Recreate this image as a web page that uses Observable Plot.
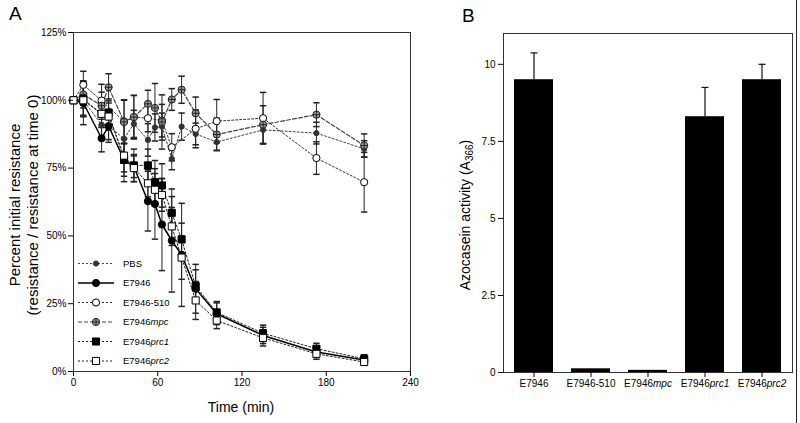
<!DOCTYPE html>
<html><head><meta charset="utf-8">
<script src="https://cdn.jsdelivr.net/npm/d3@7"></script>
<script src="https://cdn.jsdelivr.net/npm/@observablehq/plot@0.6"></script>
<style>
body{margin:0;background:#fff;font-family:"Liberation Sans",Arial,sans-serif;}
#wrap{position:relative;width:800px;height:423px;overflow:hidden;}
#a{position:absolute;left:0;top:0;}
#b{position:absolute;left:440px;top:0;}
#edge{position:absolute;left:796px;top:0;width:1px;height:423px;background:#222;}
</style></head><body><div id="wrap"><div id="a"></div><div id="b"></div><div id="edge"></div></div>
<script>
// ---------- Panel A data ----------
const times = [0, 7, 20, 25, 36, 43, 53, 58, 63, 70, 77, 87, 102, 135, 173, 207];
const seriesNames = ["PBS", "E7946", "E7946-510", "E7946mpc", "E7946prc1", "E7946prc2"];
const pbsValues  = [100, 100, 91, 90.5, 85.8, 91.3, 85.4, 90, 90.3, 78.4, 90.3, 87.6, 84.6, 89.1, 87.9, 82.1];
const pbsErrors  = [0, 6, 5, 5, 6, 5, 6, 5, 5, 4, 5, 4, 3, 5, 4, 3];
const e7946Values = [100, 99, 86, 90.5, 78, 75.5, 62.8, 61.8, 54.2, 48.3, 43, 30.5, 21.3, 13.3, 7.2, 4.2];
const e7946Errors = [0, 8, 5, 6, 6, 4, 11, 13, 17, 19, 19, 9, 4, 3, 2, 1.5];
const e510Values = [100, 105.7, 99.9, null, 92.2, 93.8, 93.4, null, 92.5, 82.7, null, 89.5, 92.3, 93.4, 78.7, 69.8];
const e510Errors = [0, 5, 6, 0, 8, 8, 5, 0, 6, 5, 0, 7, 8, 9.5, 6, 11];
const mpcValues  = [100, 102.2, 98, 104.8, 92, 93.8, 98.7, 97.2, 92, 100.3, 103.9, 95.2, 87.4, 91, 94.7, 83.3];
const mpcErrors  = [0, 5, 5, 5, 8, 8, 5, 9, 10, 4, 5, 6, 6, 7, 4.4, 4.3];
const prc1Values = [100, 100.5, 95, 95.5, 78, 76, 76, 69.8, 68.6, 58.5, 48.7, 31.5, 21.8, 14.1, 8.4, 4.7];
const prc1Errors = [0, 6, 5, 5, 8, 6, 6, 8, 8, 6, 6, 6, 4, 3, 2, 1.5];
const prc2Values = [100, 100, 95, 94, 79.6, 75, 69.4, 67, 65.1, 53.5, 42, 26.2, 18.8, 12.4, 6.5, 3.5];
const prc2Errors = [0, 6, 5, 5, 6, 5, 5, 6, 6, 7, 8, 7, 3, 3, 2, 1];
const xTicksA = [0, 60, 120, 180, 240];
const yTicksA = [0, 25, 50, 75, 100, 125];

// ---------- Panel B data ----------
const barCategories = ["E7946", "E7946-510", "E7946mpc", "E7946prc1", "E7946prc2"];
const barValues = [9.5, 0.12, 0.07, 8.3, 9.5];
const barErrors = [0.87, 0, 0, 0.95, 0.5];
const yTicksB = [0, 2.5, 5, 7.5, 10];

// ---------- styles ----------
const crossCircle = {draw(ctx, size) {const r = Math.sqrt(size / Math.PI); ctx.moveTo(r, 0); ctx.arc(0, 0, r, 0, 2 * Math.PI); ctx.moveTo(-r, 0); ctx.lineTo(r, 0); ctx.moveTo(0, -r); ctx.lineTo(0, r);}};
const capSym = {draw(ctx, size) {ctx.moveTo(-3.2, 0); ctx.lineTo(3.2, 0);}};
const capSymB = {draw(ctx, size) {ctx.moveTo(-3.5, 0); ctx.lineTo(3.5, 0);}};
const styleOf = {
  "PBS":       {symbol: "circle", r: 2.6, fill: "#333", stroke: "#333", dash: "2,2", lw: 1, lc: "#444"},
  "E7946":     {symbol: "circle", r: 3.6, fill: "#000", stroke: "#000", dash: null, lw: 1.5, lc: "#000"},
  "E7946-510": {symbol: "circle", r: 3.6, fill: "#fff", stroke: "#000", dash: "2,2", lw: 1, lc: "#333"},
  "E7946mpc":  {symbol: crossCircle, r: 3.6, fill: "#9a9a9a", stroke: "#222", dash: "4,2", lw: 1.2, lc: "#444"},
  "E7946prc1": {symbol: "square", r: 4, fill: "#000", stroke: "#000", dash: "2,2", lw: 1, lc: "#222"},
  "E7946prc2": {symbol: "square", r: 4, fill: "#fff", stroke: "#000", dash: "2,2", lw: 1, lc: "#222"}
};
const valuesOf = {"PBS": [pbsValues, pbsErrors], "E7946": [e7946Values, e7946Errors], "E7946-510": [e510Values, e510Errors],
  "E7946mpc": [mpcValues, mpcErrors], "E7946prc1": [prc1Values, prc1Errors], "E7946prc2": [prc2Values, prc2Errors]};

const rows = [];
for (const s of seriesNames) {
  const [vals, errs] = valuesOf[s];
  times.forEach((t, i) => { if (vals[i] != null) rows.push({series: s, t, v: vals[i], e: errs[i]}); });
}
const errRows = rows.filter(d => d.e > 0);
const font = "'Liberation Sans', Arial, sans-serif";

const marksA = [
  Plot.frame({stroke: "#333"}),
  Plot.ruleX(errRows, {x: "t", y1: d => d.v - d.e, y2: d => d.v + d.e, stroke: "#222", strokeWidth: 1}),
  Plot.dot(errRows, {x: "t", y: d => d.v + d.e, symbol: capSym, stroke: "#222", fill: "none", r: 3}),
  Plot.dot(errRows, {x: "t", y: d => d.v - d.e, symbol: capSym, stroke: "#222", fill: "none", r: 3})
];
for (const s of seriesNames) {
  const st = styleOf[s];
  marksA.push(Plot.line(rows.filter(d => d.series === s), {x: "t", y: "v", stroke: st.lc, strokeWidth: st.lw, strokeDasharray: st.dash}));
}
for (const s of seriesNames) {
  const st = styleOf[s];
  marksA.push(Plot.dot(rows.filter(d => d.series === s), {x: "t", y: "v", symbol: st.symbol, r: st.r, fill: st.fill, stroke: st.stroke, strokeWidth: 1}));
}
marksA.push(Plot.axisX({ticks: xTicksA, tickSize: 5, tickPadding: 2, label: null, fontSize: 10}));
marksA.push(Plot.axisY({ticks: yTicksA, tickSize: 5, tickPadding: 2, label: null, tickFormat: d => d + "%", fontSize: 10}));

const plotA = Plot.plot({
  width: 440, height: 423,
  marginLeft: 73, marginRight: 30, marginTop: 32, marginBottom: 52,
  x: {domain: [0, 240]},
  y: {domain: [0, 125]},
  style: {fontFamily: font, fontSize: "10px", color: "#000", background: "transparent"},
  marks: marksA
});
document.getElementById("a").appendChild(plotA);

const svgA = d3.select(plotA);
function addItalic(sel, txt) {
  const m = /^(E7946)(mpc|prc1|prc2)$/.exec(txt);
  sel.text(null);
  if (m) { sel.append("tspan").text(m[1]); sel.append("tspan").attr("font-style", "italic").text(m[2]); }
  else sel.text(txt);
}
// legend
const leg = svgA.append("g").attr("font-family", font).attr("font-size", 9.5).attr("text-anchor", "start");
seriesNames.forEach((s, i) => {
  const st = styleOf[s];
  const y = 263.5 + i * 19.5;
  leg.append("line").attr("x1", 78).attr("x2", 114).attr("y1", y).attr("y2", y)
    .attr("stroke", st.lc).attr("stroke-width", st.lw).attr("stroke-dasharray", st.dash);
  const sz = Math.PI * st.r * st.r;
  const symType = typeof st.symbol === "string" ? (st.symbol === "square" ? d3.symbolSquare : d3.symbolCircle) : st.symbol;
  leg.append("path").attr("transform", `translate(96,${y})`).attr("d", d3.symbol(symType, sz)())
    .attr("fill", st.fill).attr("stroke", st.stroke);
  addItalic(leg.append("text").attr("x", 123).attr("y", y).attr("dy", "0.35em"), s);
});
// titles
svgA.append("text").attr("x", 9).attr("y", 20).attr("text-anchor", "start").attr("font-size", 19).attr("font-family", font).text("A");
svgA.append("text").attr("transform", "translate(20,205) rotate(-90)").attr("text-anchor", "middle")
  .attr("font-size", 15).attr("font-family", font).text("Percent initial resistance");
svgA.append("text").attr("transform", "translate(38,205) rotate(-90)").attr("text-anchor", "middle")
  .attr("font-size", 15).attr("font-family", font).text("(resistance / resistance at time 0)");
svgA.append("text").attr("x", 241).attr("y", 412).attr("text-anchor", "middle")
  .attr("font-size", 14).attr("font-family", font).text("Time (min)");

// ---------- Panel B ----------
const barRows = barCategories.map((c, i) => ({c, v: barValues[i], e: barErrors[i]}));
const errB = barRows.filter(d => d.e > 0);
const plotB = Plot.plot({
  width: 360, height: 423,
  marginLeft: 63, marginRight: 8, marginTop: 33, marginBottom: 51,
  x: {domain: barCategories, paddingInner: 0.31, paddingOuter: 0.17},
  y: {domain: [0, 11]},
  style: {fontFamily: font, fontSize: "10px", color: "#000", background: "transparent"},
  marks: [
    Plot.frame({stroke: "#333"}),
    Plot.ruleX(errB, {x: "c", y1: "v", y2: d => d.v + d.e, stroke: "#111", strokeWidth: 1.2}),
    Plot.dot(errB, {x: "c", y: d => d.v + d.e, symbol: capSymB, stroke: "#111", strokeWidth: 1.2, fill: "none", r: 3}),
    Plot.barY(barRows, {x: "c", y: "v", fill: "#000"}),
    Plot.axisX({tickSize: 5, tickPadding: 2, label: null, fontSize: 10}),
    Plot.axisY({ticks: yTicksB, tickSize: 5, tickPadding: 3, label: null, tickFormat: d => String(d), fontSize: 10})
  ]
});
document.getElementById("b").appendChild(plotB);
const svgB = d3.select(plotB);
svgB.selectAll('g[aria-label="x-axis tick label"] text').each(function() {
  const t = d3.select(this); addItalic(t, t.text());
});
svgB.append("text").attr("x", 22).attr("y", 22).attr("text-anchor", "start").attr("font-size", 19).attr("font-family", font).text("B");
const yl = svgB.append("text").attr("transform", "translate(30,215) rotate(-90)").attr("text-anchor", "middle")
  .attr("font-size", 14).attr("font-family", font);
yl.append("tspan").text("Azocasein activity (A");
yl.append("tspan").attr("font-size", 10).attr("dy", 3).text("366");
yl.append("tspan").attr("dy", -3).text(")");
</script>
</body></html>
